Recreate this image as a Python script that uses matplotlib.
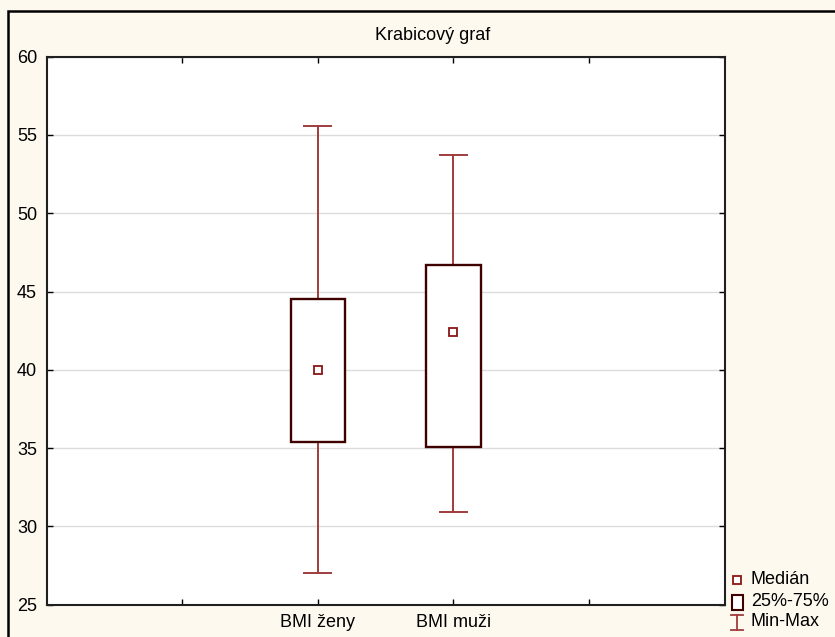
import matplotlib
matplotlib.use("Agg")
import matplotlib.pyplot as plt
from matplotlib.lines import Line2D
from matplotlib.patches import Rectangle

plt.rcParams['font.family'] = ['Liberation Sans', 'DejaVu Sans']

# Data
categories = ['BMI ženy', 'BMI muži']
positions = [2, 3]
medians = [40.0, 42.4]
q1 = [35.4, 35.1]
q3 = [44.5, 46.7]
mins = [27.0, 30.9]
maxs = [55.6, 53.7]
title = 'Krabicový graf'
legend_labels = ['Medián', '25%-75%', 'Min-Max']
yticks = [25, 30, 35, 40, 45, 50, 55, 60]

W, H = 835, 637
bg = '#fef9ef'
whisk_c = '#a03c3c'
box_c = '#400000'
med_c = '#8b1515'
FS = 13

fig = plt.figure(figsize=(W / 100, H / 100), dpi=100, facecolor=bg)
ax = fig.add_axes([46.7 / W, 1 - 604.7 / H, (724.7 - 46.7) / W, (604.7 - 56.7) / H])
ax.set_facecolor('white')

stats = []
for i in range(len(categories)):
    stats.append(dict(med=medians[i], q1=q1[i], q3=q3[i],
                      whislo=mins[i], whishi=maxs[i], fliers=[]))

ax.bxp(stats, positions=positions, widths=0.4, capwidths=0.2,
       showfliers=False, patch_artist=True,
       boxprops=dict(facecolor='white', edgecolor=box_c, linewidth=1.7, zorder=4),
       whiskerprops=dict(color=whisk_c, linewidth=1.4, zorder=3),
       capprops=dict(color=whisk_c, linewidth=1.4, zorder=3),
       medianprops=dict(linewidth=0, alpha=0))
ax.plot(positions, medians, linestyle='none', marker='s', markersize=5.5,
        markerfacecolor='white', markeredgecolor=med_c, markeredgewidth=1.3,
        zorder=5)

ax.set_xlim(0, 5)
ax.set_ylim(25, 60)
ax.set_yticks(yticks)
ax.set_xticks([1, 2, 3, 4])
ax.set_xticklabels([''] + categories + [''])
ax.grid(axis='y', color='#dcdcdc', linewidth=1, zorder=0)
ax.set_axisbelow(True)
ax.tick_params(axis='both', direction='in', length=4, width=1, colors='black',
               labelsize=FS, top=True, right=True)
ax.tick_params(axis='y', pad=7)
ax.tick_params(axis='x', pad=7)
for s in ax.spines.values():
    s.set_linewidth(1.5)
    s.set_color('#202020')

fig.text(433 / W, 1 - 35 / H, title, ha='center', va='center', fontsize=FS)

# outer frame
fig.add_artist(Rectangle((8 / W, -0.1), 1.2, 1 - 11 / H + 0.1, transform=fig.transFigure,
                         fill=False, edgecolor='black', linewidth=1.8))

# manual legend
def fx(x):
    return x / W

def fy(y):
    return 1 - y / H

fig.add_artist(Line2D([fx(737)], [fy(580)], marker='s', markersize=5.5, linestyle='none',
                      markerfacecolor='white', markeredgecolor=med_c, markeredgewidth=1.3,
                      transform=fig.transFigure))
fig.add_artist(Rectangle((fx(732), fy(609.5)), (743 - 732) / W, (609.5 - 594.5) / H,
                         transform=fig.transFigure, facecolor='white',
                         edgecolor=box_c, linewidth=1.5))
fig.add_artist(Line2D([fx(737), fx(737)], [fy(614.5), fy(629.5)], color=whisk_c,
                      linewidth=1.3, transform=fig.transFigure))
fig.add_artist(Line2D([fx(731), fx(743)], [fy(614.5), fy(614.5)], color=whisk_c,
                      linewidth=1.3, transform=fig.transFigure))
fig.add_artist(Line2D([fx(731), fx(743)], [fy(629.5), fy(629.5)], color=whisk_c,
                      linewidth=1.3, transform=fig.transFigure))
for lab, yy in zip(legend_labels, [580, 601.5, 622]):
    fig.text(fx(751), fy(yy), lab, ha='left', va='center', fontsize=FS)

fig.savefig('out.png', dpi=100, facecolor=bg)
